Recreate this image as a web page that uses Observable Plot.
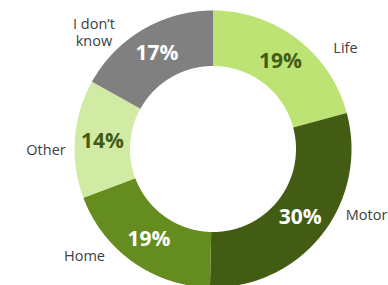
<!DOCTYPE html>
<html><head><meta charset="utf-8">
<script src="https://cdn.jsdelivr.net/npm/d3@7"></script>
<script src="https://cdn.jsdelivr.net/npm/@observablehq/plot@0.6"></script>
<style>html,body{margin:0;padding:0;background:#fff;overflow:hidden}</style>
</head><body><div id="chart"></div>
<script>
// Data
const categories = ["Life", "Motor", "Home", "Other", "I don’t know"];
const shares = [20.8, 29.5, 18.9, 13.8, 16.9];          // slice sizes as drawn
const pctLabels = ["19%", "30%", "19%", "14%", "17%"];   // printed labels
const sliceColors = ["#bde374", "#435c14", "#658c1e", "#d2eba4", "#808080"];
const darkInk = ["Life", "Other"];

// Layout
const W = 388, H = 285, cx = 212.5, cy = 148.5, r0 = 83, r1 = 138.5;
const font = "'Open Sans', sans-serif";

const arcs = d3.pie().sort(null).value(d => d)(shares);
const pt = (a, rx, ry = rx) => [rx * Math.sin(a), ry * Math.cos(a)];

const ring = [];
arcs.forEach((a, i) => {
  const n = Math.max(2, Math.ceil((a.endAngle - a.startAngle) / (Math.PI / 720)));
  for (let k = 0; k <= n; k++) {
    const t = a.startAngle + (a.endAngle - a.startAngle) * k / n;
    const [x, y] = pt(t, r1); ring.push({cat: categories[i], x, y});
  }
  for (let k = n; k >= 0; k--) {
    const t = a.startAngle + (a.endAngle - a.startAngle) * k / n;
    const [x, y] = pt(t, r0); ring.push({cat: categories[i], x, y});
  }
});

const inner = arcs.map((a, i) => {
  const m = (a.startAngle + a.endAngle) / 2;
  const [x, y] = pt(m, (r0 + r1) / 2);
  return {cat: categories[i], text: pctLabels[i], x, y};
});

// outside labels: mid-angle nudged toward the horizontal
const pull = 15 * Math.PI / 180;
const outer = arcs.map((a, i) => {
  const m = (a.startAngle + a.endAngle) / 2;
  const target = m < Math.PI ? Math.PI / 2 : 3 * Math.PI / 2;
  const d = target - m;
  const ang = m + Math.sign(d) * Math.min(Math.abs(d), pull);
  const [x, y] = pt(ang, 167);
  return {name: categories[i], x, y};
});

const chart = Plot.plot({
  width: W, height: H, margin: 0,
  style: {fontFamily: font, background: "#fff"},
  x: {domain: [-cx, W - cx], axis: null},
  y: {domain: [cy - H, cy], axis: null},
  color: {domain: categories, range: sliceColors},
  marks: [
    Plot.line(ring, {x: "x", y: "y", z: "cat", fill: "cat", stroke: "none", curve: "linear"}),
    Plot.text(inner.filter(d => darkInk.includes(d.cat)), {x: "x", y: "y", text: "text", fill: "#435c14", fontSize: 21, fontWeight: 700, fontFamily: font}),
    Plot.text(inner.filter(d => !darkInk.includes(d.cat)), {x: "x", y: "y", text: "text", fill: "#ffffff", fontSize: 21, fontWeight: 700, fontFamily: font}),
    Plot.text(outer, {x: "x", y: "y", text: "name", fill: "#404040", fontSize: 14.5, fontFamily: font, lineWidth: 4.5, lineHeight: 1.2, textAnchor: "middle"})
  ]
});
document.getElementById("chart").appendChild(chart);
</script>
</body></html>
